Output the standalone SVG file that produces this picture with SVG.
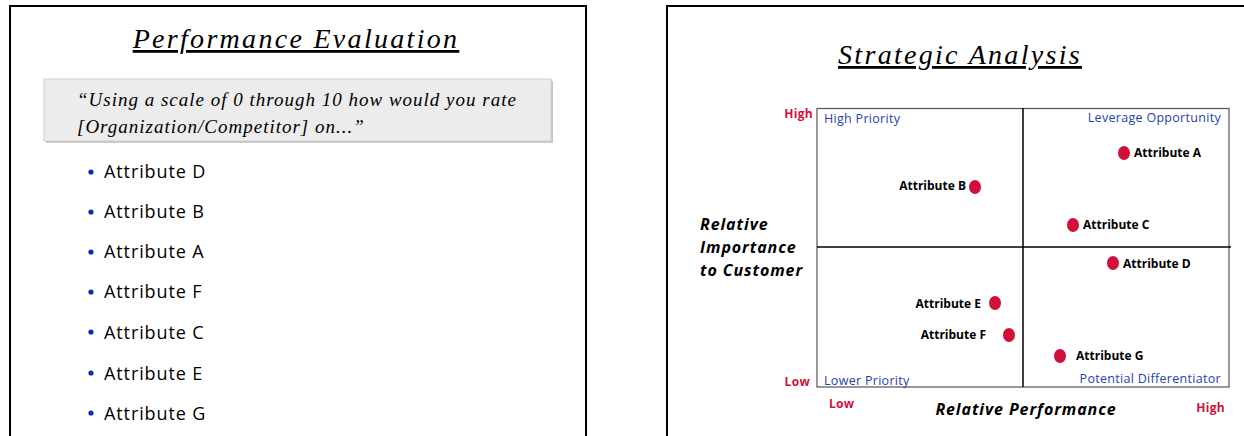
<svg xmlns="http://www.w3.org/2000/svg" width="1244" height="436" viewBox="0 0 1244 436">
<defs>
<style>
.panel{fill:#fff;stroke:#000;stroke-width:2}
.title{font-family:"Liberation Serif",serif;font-style:italic;font-size:28px;letter-spacing:2.3px;text-decoration:underline;fill:#000}
.quote{font-family:"Liberation Serif",serif;font-style:italic;font-size:19px;letter-spacing:1px;fill:#000}
.item{font-family:"Open Sans","Liberation Sans",sans-serif;font-size:18px;letter-spacing:0.9px;fill:#000}
.bullet{fill:#0b2fa0}
.red{font-family:"Open Sans","Liberation Sans",sans-serif;font-size:12px;font-weight:bold;fill:#d0103a;letter-spacing:0.3px}
.blue{font-family:"Open Sans","Liberation Sans",sans-serif;font-size:12.5px;fill:#1f3fb0;letter-spacing:0.3px}
.axis{font-family:"Open Sans","Liberation Sans",sans-serif;font-size:16px;font-weight:bold;font-style:italic;fill:#000;letter-spacing:0.9px}
.lbl{font-family:"Open Sans","Liberation Sans",sans-serif;font-size:12px;font-weight:bold;fill:#000}
.dot{fill:#d0103a}
.grid{fill:none;stroke:#555;stroke-width:1.2}
.line{stroke:#000;stroke-width:1.5}
</style>
</defs>
<rect width="1244" height="436" fill="#fff"/>
<g id="left-panel">
<rect class="panel" x="10" y="6" width="576" height="440"/>
<text class="title" x="296" y="48" text-anchor="middle">Performance Evaluation</text>
<g id="question">
<rect x="46" y="81" width="507" height="62" fill="#c8c8c8"/>
<rect x="44" y="79" width="507" height="62" fill="#ececec" stroke="#cfcfcf" stroke-width="1"/>
<text class="quote" x="77" y="106">“Using a scale of 0 through 10 how would you rate</text>
<text class="quote" x="77" y="133">[Organization/Competitor] on...”</text>
</g>
<g id="list">
<circle class="bullet" cx="91" cy="172" r="2.6"/><text class="item" x="104" y="178">Attribute D</text>
<circle class="bullet" cx="91" cy="212" r="2.6"/><text class="item" x="104" y="218">Attribute B</text>
<circle class="bullet" cx="91" cy="252" r="2.6"/><text class="item" x="104" y="258">Attribute A</text>
<circle class="bullet" cx="91" cy="292" r="2.6"/><text class="item" x="104" y="298">Attribute F</text>
<circle class="bullet" cx="91" cy="332" r="2.6"/><text class="item" x="104" y="339">Attribute C</text>
<circle class="bullet" cx="91" cy="373" r="2.6"/><text class="item" x="104" y="380">Attribute E</text>
<circle class="bullet" cx="91" cy="413" r="2.6"/><text class="item" x="104" y="420">Attribute G</text>
</g>
</g>
<g id="right-panel">
<rect class="panel" x="667" y="6" width="600" height="440"/>
<text class="title" x="960" y="64" text-anchor="middle">Strategic Analysis</text>
<g id="matrix">
<rect class="grid" x="817" y="108.5" width="412" height="278.5"/>
<line class="line" x1="1023" y1="108" x2="1023" y2="387"/>
<line class="line" x1="817" y1="247" x2="1231" y2="247"/>
<text class="red" x="813" y="118" text-anchor="end">High</text>
<text class="red" x="810" y="386" text-anchor="end">Low</text>
<text class="red" x="829" y="408">Low</text>
<text class="red" x="1225" y="412" text-anchor="end">High</text>
<text class="blue" x="824" y="123">High Priority</text>
<text class="blue" x="1221" y="122" text-anchor="end">Leverage Opportunity</text>
<text class="blue" x="824" y="385">Lower Priority</text>
<text class="blue" x="1221" y="383" text-anchor="end">Potential Differentiator</text>
<text class="axis" x="700" y="230">Relative</text>
<text class="axis" x="700" y="253">Importance</text>
<text class="axis" x="700" y="276">to Customer</text>
<text class="axis" x="1026" y="415" text-anchor="middle">Relative Performance</text>
</g>
<g id="attr-a"><ellipse class="dot" cx="1124" cy="153" rx="6" ry="7"/><text class="lbl" x="1134" y="157">Attribute A</text></g>
<g id="attr-b"><ellipse class="dot" cx="975" cy="187" rx="6" ry="7"/><text class="lbl" x="966" y="190" text-anchor="end">Attribute B</text></g>
<g id="attr-c"><ellipse class="dot" cx="1073" cy="225" rx="6" ry="7"/><text class="lbl" x="1083" y="229">Attribute C</text></g>
<g id="attr-d"><ellipse class="dot" cx="1113" cy="263" rx="6" ry="7"/><text class="lbl" x="1123" y="268">Attribute D</text></g>
<g id="attr-e"><ellipse class="dot" cx="995" cy="303" rx="6" ry="7"/><text class="lbl" x="981" y="308" text-anchor="end">Attribute E</text></g>
<g id="attr-f"><ellipse class="dot" cx="1009" cy="335" rx="6" ry="7"/><text class="lbl" x="986" y="339" text-anchor="end">Attribute F</text></g>
<g id="attr-g"><ellipse class="dot" cx="1060" cy="356" rx="6" ry="7"/><text class="lbl" x="1076" y="360">Attribute G</text></g>
</g>
</svg>
